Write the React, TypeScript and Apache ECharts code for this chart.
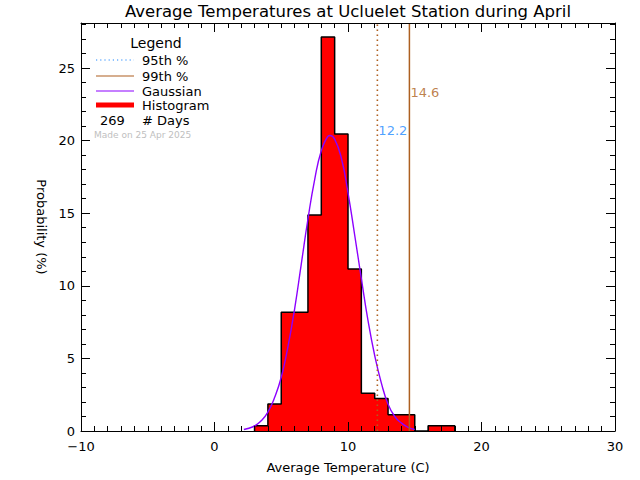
import React, { useEffect, useRef } from "react";
import * as echarts from "echarts";

// ---- data ----
const binStarts = [3, 4, 5, 6, 7, 8, 9, 10, 11, 12, 13, 14, 15, 16, 17];
const binPercent = [0.37, 1.86, 8.18, 8.18, 14.87, 27.14, 20.45, 11.15, 2.6, 2.23, 1.12, 1.12, 0, 0.37, 0.37];
const binWidth = 1;

const gaussX = [2.2, 2.5, 3, 3.5, 4, 4.5, 5, 5.5, 6, 6.5, 7, 7.5, 8, 8.5, 8.65, 9, 9.5, 10, 10.5, 11, 11.5, 12, 12.5, 13, 13.5, 14, 14.5, 15];
const gaussY = [0.1, 0.17, 0.35, 0.7, 1.3, 2.3, 3.7, 5.8, 8.4, 11.5, 14.6, 17.3, 19.3, 20.3, 20.35, 20.1, 18.8, 16.4, 13.5, 10.5, 7.6, 5.2, 3.3, 1.85, 1.0, 0.55, 0.25, 0.1];

const p95 = 12.2;
const p99 = 14.6;
const p95LabelY = 20.7;
const p99LabelY = 23.3;
const nDays = 269;

const xMin = -10;
const xMax = 30;
const xInterval = 10;
const yMin = 0;
const yMax = 28.1;
const yInterval = 5;

const title = "Average Temperatures at Ucluelet Station during April";
const xLabel = "Average Temperature (C)";
const yLabel = "Probability (%)";
const madeOn = "Made on 25 Apr 2025";

const FONT = "DejaVu Sans";
const BROWN = "#ad5f20";
const BLUE = "#1e88ff";
const PURPLE = "#8c00ff";

export default function App() {
  const ref = useRef<HTMLDivElement>(null);
  useEffect(() => {
    if (!ref.current) return;
    const chart = echarts.init(ref.current, null, { renderer: "svg" });

    // histogram outline (step)
    const outline: number[][] = [[binStarts[0], 0]];
    binStarts.forEach((s, i) => {
      outline.push([s, binPercent[i]]);
      outline.push([s + binWidth, binPercent[i]]);
    });
    outline.push([binStarts[binStarts.length - 1] + binWidth, 0]);

    const gauss = gaussX.map((x, i) => [x, gaussY[i]]);

    const axisCommon = {
      type: "value" as const,
      axisLine: { show: true, onZero: false, lineStyle: { color: "#000", width: 1 } },
      axisTick: { show: true, inside: true, length: 9, lineStyle: { color: "#000" } },
      minorTick: { show: true, splitNumber: 5, length: 5, lineStyle: { color: "#000" } },
      splitLine: { show: false },
      z: 10,
    };

    const legendRows = [
      { y: 60, label: "95th %", kind: "dot" },
      { y: 76, label: "99th %", kind: "brown" },
      { y: 91, label: "Gaussian", kind: "purple" },
      { y: 105, label: "Histogram", kind: "hist" },
    ];
    const legendEls: any[] = [];
    legendRows.forEach((r) => {
      let style: any = { stroke: "#000", lineWidth: 1 };
      if (r.kind === "dot") style = { stroke: BLUE, lineWidth: 1.2, lineDash: [1.2, 3] };
      if (r.kind === "brown") style = { stroke: BROWN, lineWidth: 1.2 };
      if (r.kind === "purple") style = { stroke: PURPLE, lineWidth: 1.2 };
      if (r.kind === "hist") style = { stroke: "#ff0000", lineWidth: 5 };
      legendEls.push({ type: "line", shape: { x1: 96, y1: r.y, x2: 134, y2: r.y }, style });
      legendEls.push({
        type: "text",
        x: 142,
        y: r.y,
        style: { text: r.label, font: `13px "${FONT}"`, fill: "#000", verticalAlign: "middle" },
      });
    });

    const tickFmt = (v: number) => String(v).replace("-", "\u2212");

    chart.setOption({
      animation: false,
      backgroundColor: "#fff",
      grid: { left: 81, right: 25, top: 23, bottom: 49, containLabel: false },
      xAxis: [
        {
          ...axisCommon,
          min: xMin,
          max: xMax,
          interval: xInterval,
          minorTick: { ...axisCommon.minorTick, splitNumber: 10 },
          position: "bottom",
          axisLabel: { color: "#000", fontFamily: FONT, fontSize: 13, margin: 9, formatter: tickFmt },
          name: xLabel,
          nameLocation: "middle",
          nameGap: 30,
          nameTextStyle: { color: "#000", fontFamily: FONT, fontSize: 13 },
        },
        {
          ...axisCommon,
          min: xMin,
          max: xMax,
          interval: xInterval,
          minorTick: { ...axisCommon.minorTick, splitNumber: 10 },
          position: "top",
          axisLabel: { show: false },
        },
      ],
      yAxis: [
        {
          ...axisCommon,
          min: yMin,
          max: yMax,
          interval: yInterval,
          position: "left",
          axisLabel: { color: "#000", fontFamily: FONT, fontSize: 13, margin: 6, showMaxLabel: false },
          name: yLabel,
          nameLocation: "middle",
          nameGap: 29,
          nameRotate: -90,
          nameTextStyle: { color: "#000", fontFamily: FONT, fontSize: 13 },
        },
        {
          ...axisCommon,
          min: yMin,
          max: yMax,
          interval: yInterval,
          position: "right",
          axisLabel: { show: false },
        },
      ],
      series: [
        {
          type: "line",
          name: "Histogram",
          data: outline,
          symbol: "none",
          lineStyle: { color: "#000", width: 1.5 },
          areaStyle: { color: "#ff0000", opacity: 1 },
          z: 2,
        },
        {
          type: "line",
          name: "Gaussian",
          data: gauss,
          smooth: true,
          symbol: "none",
          lineStyle: { color: PURPLE, width: 1.4 },
          z: 3,
        },
        {
          type: "line",
          name: "95th %",
          data: [[p95, yMin], [p95, yMax]],
          symbol: "none",
          lineStyle: { color: BROWN, width: 1.6, type: [1.6, 3.4] },
          z: 4,
        },
        {
          type: "line",
          name: "99th %",
          data: [[p99, yMin], [p99, yMax]],
          symbol: "none",
          lineStyle: { color: BROWN, width: 1.5 },
          z: 4,
        },
        {
          type: "scatter",
          data: [
            { value: [p95, p95LabelY], label: { color: BLUE } },
            { value: [p99, p99LabelY], label: { color: BROWN } },
          ],
          symbolSize: 0,
          z: 5,
          label: {
            show: true,
            position: "right",
            distance: 1,
            fontFamily: FONT,
            fontSize: 13,
            formatter: (p: any) => p.value[0].toFixed(1),
          },
          itemStyle: { color: "transparent" },
        },
      ],
      graphic: [
        {
          type: "text",
          x: 348,
          y: 11,
          style: { text: title, font: `16.5px "${FONT}"`, fill: "#000", align: "center", verticalAlign: "middle" },
        },
        {
          type: "text",
          x: 156,
          y: 43,
          style: { text: "Legend", font: `14px "${FONT}"`, fill: "#000", align: "center", verticalAlign: "middle" },
        },
        ...legendEls,
        {
          type: "text",
          x: 100,
          y: 120,
          style: { text: String(nDays), font: `13px "${FONT}"`, fill: "#000", verticalAlign: "middle" },
        },
        {
          type: "text",
          x: 142,
          y: 120,
          style: { text: "# Days", font: `13px "${FONT}"`, fill: "#000", verticalAlign: "middle" },
        },
        {
          type: "text",
          x: 94,
          y: 135,
          style: { text: madeOn, font: `9px "${FONT}"`, fill: "#c0c0c0", verticalAlign: "middle" },
        },
      ],
    });
    return () => chart.dispose();
  }, []);
  return <div ref={ref} style={{ position: "fixed", left: 0, top: 0, width: 640, height: 480 }} />;
}
